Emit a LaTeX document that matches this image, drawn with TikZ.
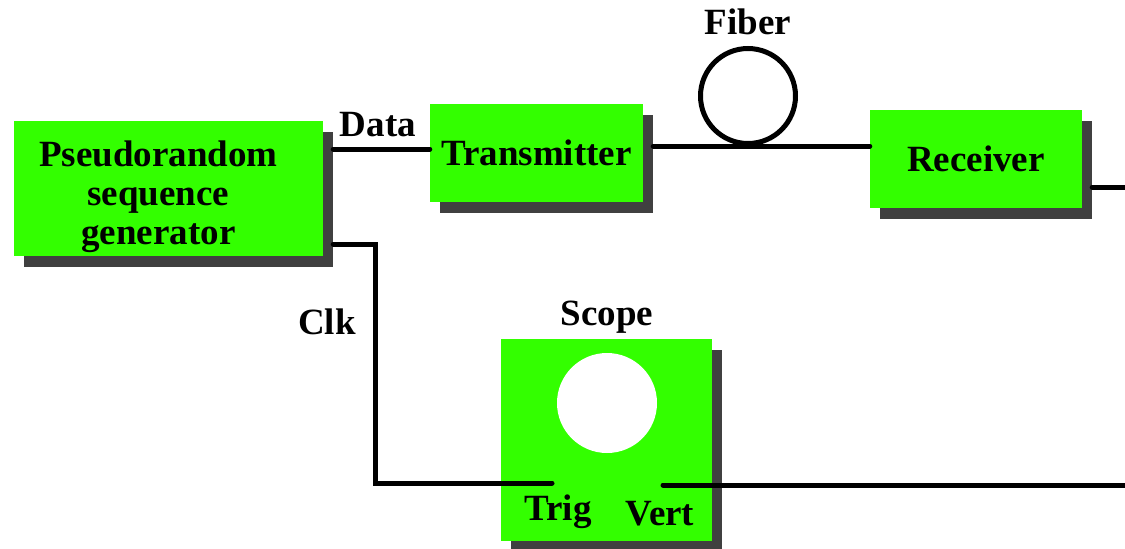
\documentclass[tikz,border=0pt]{standalone}
\usepackage{fontspec}
\setmainfont{Liberation Serif}
\usetikzlibrary{positioning,shadows}
\definecolor{boxgreen}{RGB}{51,255,0}
\definecolor{shadegray}{RGB}{64,64,64}
\tikzset{
  unit/.style={fill=boxgreen, inner sep=0pt, align=center, font=\fontsize{37}{39}\selectfont\bfseries,
    drop shadow={shadow xshift=10pt, shadow yshift=-11pt, fill=shadegray, opacity=1}},
  wire/.style={line width=5pt, black, line cap=round},
  lbl/.style={font=\fontsize{37}{39}\selectfont\bfseries, inner sep=0pt},
}
\begin{document}
\begin{tikzpicture}[x=1pt, y=-1pt]
  \useasboundingbox (0,0) rectangle (1125,549);
  \node[unit, minimum width=309pt, minimum height=135pt] (prng) at (168.5,188.5)
    {\raisebox{-15pt}[0pt][0pt]{\makebox[0pt]{\begin{tabular}{@{}c@{}}Pseudorandom\\sequence\\generator\end{tabular}\hspace*{20pt}}}};
  \node[unit, minimum width=213pt, minimum height=98pt] (tx) at (536.5,153) {Transmitter};
  \node[unit, minimum width=212pt, minimum height=98pt] (rx) at (976,159) {Receiver};
  \node[unit, minimum width=211pt, minimum height=202pt] (scope) at (606.5,440) {};
  \node[circle, fill=white, minimum size=100pt, inner sep=0pt] (screen) at (607,403) {};
  \node[circle, draw, line width=5pt, minimum size=95pt, inner sep=0pt] (loop) at (748,96) {};
  % labels
  \node[lbl] (datalbl) at (378,125) {Data};
  \node[lbl] (fiberlbl) at (748,22) {Fiber};
  \node[lbl] (scopelbl) at (607,317) {Scope};
  \node[lbl] (clklbl) at (327,322) {Clk};
  \node[lbl] (triglbl) at (558,512) {Trig};
  \node[lbl] (vertlbl) at (660,514) {Vert};
  % free ends and bends
  \coordinate (datapt) at (430,149);
  \coordinate (rxout) at (1125,187);
  \coordinate (clkbend) at (375,244);
  \coordinate (trig) at (552,483);
  \coordinate (vert) at (663,485);
  \coordinate (vertout) at (1125,485);
  % wires
  \draw[wire, shorten <=10pt] (prng.east |- datapt) -- (tx.west |- datapt);
  \draw[wire, shorten <=10pt] (tx.east |- loop.south) -- (rx.west |- loop.south);
  \draw[wire, shorten <=10pt] (rx.east |- rxout) -- (rxout);
  \draw[wire, shorten <=10pt] (prng.east |- clkbend) -- (clkbend) |- (trig);
  \draw[wire] (vert) -- (vertout);
\end{tikzpicture}
\end{document}
